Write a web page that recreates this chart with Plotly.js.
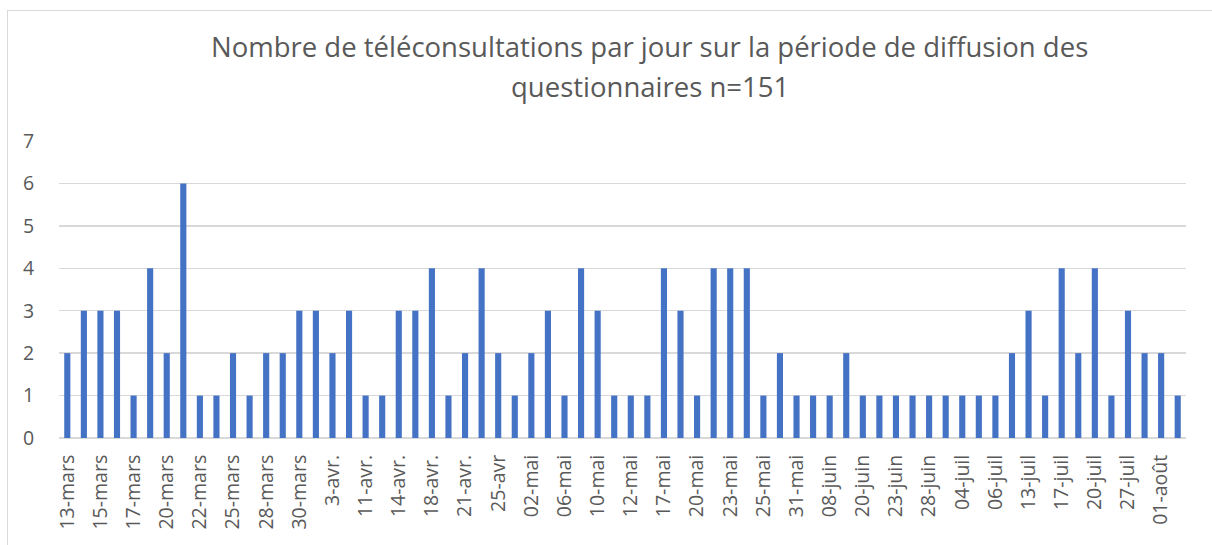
<!DOCTYPE html>
<html>
<head>
<meta charset="utf-8">
<script src="https://cdn.plot.ly/plotly-3.0.1.min.js"></script>
<style>
html,body{margin:0;padding:0;background:#fff;overflow:hidden;}
#chart{width:1212px;height:545px;position:absolute;left:0;top:0;}
#frame{position:absolute;left:7px;top:10px;width:1230px;height:560px;border:1px solid #d9d9d9;pointer-events:none;}
</style>
</head>
<body>
<div id="chart"></div>
<div id="frame"></div>
<script>
const values = [2,3,3,3,1,4,2,6,1,1,
                2,1,2,2,3,3,2,3,1,1,
                3,3,4,1,2,4,2,1,2,3,
                1,4,3,1,1,1,4,3,1,4,
                4,4,1,2,1,1,1,2,1,1,
                1,1,1,1,1,1,1,2,3,1,
                4,2,4,1,3,2,2,1];
const tickLabels = ["13-mars","15-mars","17-mars","20-mars","22-mars","25-mars","28-mars","30-mars",
  "3-avr.","11-avr.","14-avr.","18-avr.","21-avr.","25-avr","02-mai","06-mai","10-mai","12-mai",
  "17-mai","20-mai","23-mai","25-mai","31-mai","08-juin","20-juin","23-juin","28-juin","04-juil",
  "06-juil","13-juil","17-juil","20-juil","27-juil","01-août"];
const titleLine1 = "Nombre de téléconsultations par jour sur la période de diffusion des";
const titleLine2 = "questionnaires n=151";

const idx = values.map((v,i)=>i);
const tickVals = tickLabels.map((t,i)=>i*2);
const font = "'Open Sans', 'Noto Sans', sans-serif";
const grey = "#595959";

Plotly.newPlot('chart', [{
  type:'bar', x: idx, y: values,
  marker:{color:'#4472C4'},
  hoverinfo:'y'
}], {
  width:1212, height:545,
  margin:{l:58.7, r:25.7, t:141, b:107},
  paper_bgcolor:'#fff', plot_bgcolor:'#fff',
  bargap:0.63,
  showlegend:false,
  font:{family:font, color:grey},
  xaxis:{
    range:[-0.5, values.length-0.5],
    tickmode:'array', tickvals:tickVals, ticktext:tickLabels,
    tickangle:-90, tickfont:{size:19.5, color:grey, family:font},
    ticks:'outside', ticklen:8, tickcolor:'rgba(0,0,0,0)',
    showgrid:false, zeroline:false, showline:false, fixedrange:true
  },
  yaxis:{
    range:[0,7], dtick:1,
    tickfont:{size:19.5, color:grey, family:font},
    ticks:'outside', ticklen:20, tickcolor:'rgba(0,0,0,0)',
    showgrid:true, gridcolor:'#d9d9d9', gridwidth:1.3,
    zeroline:true, zerolinecolor:'#d9d9d9', zerolinewidth:1.3,
    showline:false, fixedrange:true
  },
  annotations:[
    {text:titleLine1, xref:'paper', yref:'paper', x:0.5244, y:1.3165, xanchor:'center', yanchor:'middle',
     showarrow:false, font:{size:27.5, color:grey, family:font}},
    {text:titleLine2, xref:'paper', yref:'paper', x:0.5244, y:1.185, xanchor:'center', yanchor:'middle',
     showarrow:false, font:{size:27.5, color:grey, family:font}}
  ]
}, {displayModeBar:false, staticPlot:true});
</script>
</body>
</html>
